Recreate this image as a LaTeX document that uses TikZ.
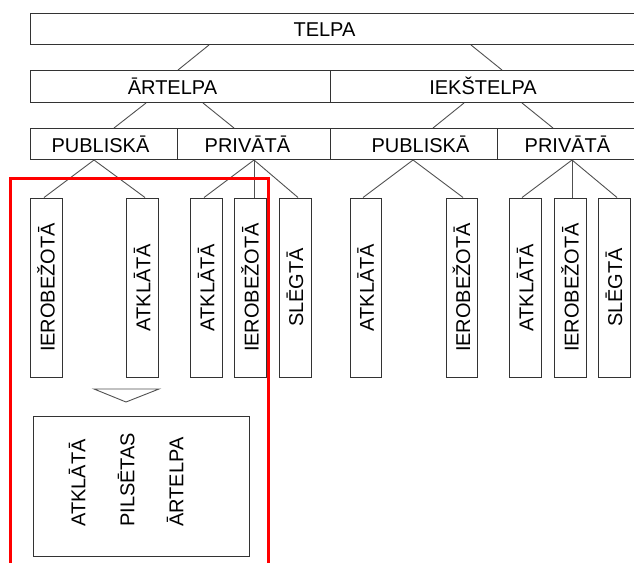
\documentclass[tikz,border=0pt]{standalone}
\usepackage{fontspec}
\usepackage{tikz}
\usetikzlibrary{positioning}
\setmainfont{Liberation Sans}
\definecolor{boxgray}{RGB}{51,51,51}
\definecolor{linkgray}{RGB}{80,80,80}
\definecolor{markred}{RGB}{255,0,0}
\newcommand{\up}[1]{\rotatebox{90}{#1}}

\begin{document}
\begin{tikzpicture}[x=1pt, y=-1pt,
  every node/.style={font=\fontsize{20}{24}\selectfont},
  hbox/.style={draw=boxgray, line width=1pt, anchor=north west, minimum height=31pt, inner sep=0pt},
  vbox/.style={draw=boxgray, line width=1pt, minimum width=32pt, minimum height=179pt, inner sep=0pt},
  htext/.style={anchor=base, inner sep=0pt},
  link/.style={draw=linkgray, line width=0.9pt}]
  \useasboundingbox (0,0) rectangle (634,562);
  % levels 1-3
  \node[hbox, minimum width=620pt] (telpa) at (30,13) {};
  \node[hbox, minimum width=300pt, minimum height=32pt] (artelpa) at (30,70) {};
  \node[hbox, minimum width=320pt, minimum height=32pt] (iekstelpa) at (330,70) {};
  \node[hbox, minimum width=147pt] (pub1) at (30,128) {};
  \node[hbox, minimum width=153pt] (priv1) at (177,128) {};
  \node[hbox, minimum width=167pt] (pub2) at (330,128) {};
  \node[hbox, minimum width=153pt] (priv2) at (497,128) {};
  \node[htext] (telpa-t) at (324.5,36) {TELPA};
  \node[htext] (artelpa-t) at (172.5,94) {ĀRTELPA};
  \node[htext] (iekstelpa-t) at (483,94) {IEKŠTELPA};
  \node[htext] (pub1-t) at (100.5,152) {PUBLISKĀ};
  \node[htext] (priv1-t) at (247.5,152) {PRIVĀTĀ};
  \node[htext] (pub2-t) at (420.5,152) {PUBLISKĀ};
  \node[htext] (priv2-t) at (567.5,152) {PRIVĀTĀ};
  % level 4
  \node[vbox] (ier1) at (46,287.5) {\up{IEROBEŽOTĀ}};
  \node[vbox] (atk1) at (142,287.5) {\up{ATKLĀTĀ}};
  \node[vbox] (atk2) at (206,287.5) {\up{ATKLĀTĀ}};
  \node[vbox] (ier2) at (250,287.5) {\up{IEROBEŽOTĀ}};
  \node[vbox] (sle1) at (295,287.5) {\up{SLĒGTĀ}};
  \node[vbox, minimum width=31pt] (atk3) at (365.5,287.5) {\up{ATKLĀTĀ}};
  \node[vbox, minimum width=31pt] (ier3) at (461.5,287.5) {\up{IEROBEŽOTĀ}};
  \node[vbox] (atk4) at (525,287.5) {\up{ATKLĀTĀ}};
  \node[vbox] (ier4) at (570,287.5) {\up{IEROBEŽOTĀ}};
  \node[vbox] (sle2) at (614,287.5) {\up{SLĒGTĀ}};
  \foreach \a/\ax/\b/\bx in {telpa/209/artelpa/178, telpa/471/iekstelpa/502,
      artelpa/146/pub1/114, artelpa/203/priv1/234,
      iekstelpa/464/pub2/433, iekstelpa/522/priv2/553,
      pub1/94/ier1/44, pub1/94/atk1/145,
      priv1/254/atk2/204, priv1/254/ier2/254, priv1/254/sle1/298,
      pub2/413/atk3/363, pub2/413/ier3/463,
      priv2/572/atk4/522, priv2/572/ier4/572, priv2/572/sle2/617}
    \draw[link] (\a.south -| \ax,0) -- (\b.north -| \bx,0);
  % result
  \draw[link] (94,389) -- (159,389) -- (126,402) -- cycle;
  \node[draw=boxgray, line width=1pt, anchor=north west, minimum width=216pt, minimum height=140pt, inner sep=0pt] (result) at (33,416) {};
  \node[rotate=90, anchor=south west, align=left, inner sep=0pt, font=\fontsize{20}{49}\selectfont] (result-t) at (183.5,527) {ATKLĀTĀ\\PILSĒTAS\\ĀRTELPA};
  \draw[markred, line width=3pt] (10.5,600) -- (10.5,178.5) -- (268.5,178.5) -- (268.5,600);
\end{tikzpicture}
\end{document}
